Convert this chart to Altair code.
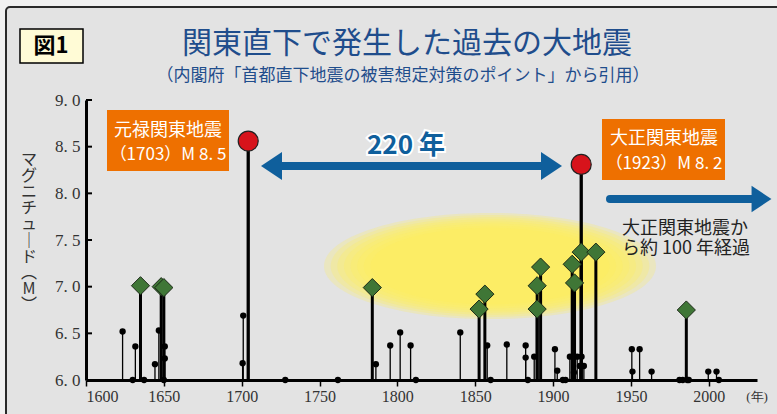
import altair as alt
import pandas as pd

# ---------------- data ----------------
dot_years = [1623.5, 1630.0, 1631.7, 1637.3, 1644.3, 1646.8, 1650.6, 1650.6, 1650.0,
             1700.6, 1701.0, 1728.0, 1761.8, 1786.2, 1795.4, 1801.8, 1808.5, 1811.9,
             1840.4, 1857.7, 1859.9, 1870.3, 1882.4, 1882.4, 1883.8, 1887.9, 1901.2,
             1902.7, 1906.3, 1908.0, 1910.8, 1913.4, 1915.5, 1917.2, 1918.3, 1919.8,
             1950.6, 1951.0, 1955.6, 1963.3, 1981.2, 1983.3, 1986.2, 1987.2, 1999.7,
             2005.0, 2006.5]
dot_mags = [6.52, 6.0, 6.36, 6.0, 6.17, 6.53, 6.36, 6.23, 6.0,
            6.18, 6.69, 6.0, 6.0, 6.17, 6.37, 6.51, 6.37, 6.0,
            6.51, 6.37, 6.0, 6.38, 6.37, 6.24, 6.0, 6.25, 6.33,
            6.10, 6.0, 6.0, 6.25, 6.08, 6.25, 6.15, 6.25, 6.15,
            6.33, 6.09, 6.33, 6.09, 6.0, 6.0, 6.0, 6.0, 6.09,
            6.09, 6.0]
dia_years = [1635.0, 1648.3, 1650.0, 1783.9, 1852.5, 1856.2, 1889.8, 1889.8, 1892.0,
             1912.3, 1913.8, 1918.1, 1927.5, 1985.6]
dia_mags = [7.01, 7.00, 6.99, 6.99, 6.76, 6.92, 6.76, 7.01, 7.21,
            7.24, 7.04, 7.37, 7.37, 6.75]
big_years = [1704.2, 1918.1]
big_mags = [8.56, 8.31]
x_ticks = [1600, 1650, 1700, 1750, 1800, 1850, 1900, 1950, 2000]
y_ticks = [6.0, 6.5, 7.0, 7.5, 8.0, 8.5, 9.0]

title_text = "関東直下で発生した過去の大地震"
subtitle_text = "（内閣府「首都直下地震の被害想定対策のポイント」から引用）"
fig_label = "図1"
ytitle_chars = ["マ", "グ", "ニ", "チ", "ュ", "｜", "ド", "︵", "M", "︶"]
genroku_lines = ["元禄関東地震", "（1703）M 8. 5"]
taisho_lines = ["大正関東地震", "（1923）M 8. 2"]
span_label = "220 年"
since_lines = ["大正関東地震か", "ら約 100 年経過"]
year_unit = "(年)"

# ---------------- styling ----------------
JP = "Noto Sans CJK JP"
SERIF = "'Liberation Serif', 'DejaVu Serif', serif"
BLUE = "#0f5f9c"
ORANGE = "#ee7000"
NAVY = "#1f4d8c"

dots = pd.DataFrame({"year": dot_years, "mag": dot_mags})
dias = pd.DataFrame({"year": dia_years, "mag": dia_mags})
bigs = pd.DataFrame({"year": big_years, "mag": big_mags})
ticks_df = pd.DataFrame({"mag": y_ticks[1:]})
one = pd.DataFrame({"a": [0]})

X = alt.X("year:Q", title=None,
          scale=alt.Scale(domain=[1600, 2031], nice=False, zero=False),
          axis=alt.Axis(values=x_ticks, format="d", labelFont=SERIF, labelFontSize=16,
                        labelColor="#333", domainColor="black", domainWidth=3,
                        tickColor="black", tickWidth=1.5, tickSize=6, labelPadding=2,
                        grid=False, zindex=1))
Y = alt.Y("mag:Q", title=None,
          scale=alt.Scale(domain=[6, 9], nice=False, zero=False),
          axis=alt.Axis(values=y_ticks,
                        labelExpr="floor(datum.value) + '. ' + round((datum.value - floor(datum.value)) * 10)",
                        labelFont=SERIF, labelFontSize=17, labelColor="#333",
                        domainColor="black", domainWidth=3, ticks=False,
                        labelPadding=6, grid=False, zindex=1))


def txt(s, x, y, **kw):
    return alt.Chart(one).mark_text(text=s, **kw).encode(x=alt.value(x), y=alt.value(y))


def box(x1, x2, y1, y2, **kw):
    return alt.Chart(one).mark_rect(**kw).encode(
        x=alt.value(x1), x2=alt.value(x2), y=alt.value(y1), y2=alt.value(y2))


layers = []
# frame / panel
layers.append(box(-80, 720, -93, 340, fill="#e3e3e3", stroke="#2a2a2a",
                  strokeWidth=2, cornerRadius=4))

# yellow glow (concentric translucent ellipses)
ellipse = "M -1 0 A 1 0.32 0 1 0 1 0 A 1 0.32 0 1 0 -1 0 Z"
glow = pd.DataFrame({"s": [(332 * k) ** 2 for k in [1.0, 0.96, 0.92, 0.88, 0.84, 0.8, 0.76, 0.72]]})
layers.append(alt.Chart(glow).mark_point(shape=ellipse, filled=True, color="#fff158",
                                         fillOpacity=0.25, strokeWidth=0).encode(
    x=alt.value(404), y=alt.value(166), size=alt.Size("s:Q", scale=None, legend=None)))

# inward y ticks
layers.append(alt.Chart(ticks_df).mark_rule(color="black", strokeWidth=2).encode(
    y=Y, x=alt.value(0), x2=alt.value(6)))

# stems
layers.append(alt.Chart(dots).mark_rule(color="black", strokeWidth=1.3).encode(
    x=X, y=Y, y2=alt.datum(6.0)))
layers.append(alt.Chart(dias).mark_rule(color="black", strokeWidth=3).encode(
    x=X, y=Y, y2=alt.datum(6.0)))
layers.append(alt.Chart(bigs).mark_rule(color="black", strokeWidth=3.3).encode(
    x=X, y=Y, y2=alt.datum(6.0)))

# heads
layers.append(alt.Chart(dots).mark_point(shape="circle", filled=True, color="black",
                                         size=40, opacity=1).encode(x=X, y=Y))
layers.append(alt.Chart(dias).mark_point(shape="diamond", filled=True, fill="#3f7636",
                                         stroke="#1c2a18", strokeWidth=1, size=330,
                                         opacity=1).encode(x=X, y=Y))
layers.append(alt.Chart(bigs).mark_point(shape="circle", filled=True, fill="#d7131b",
                                         stroke="#222", strokeWidth=1.2, size=400,
                                         opacity=1).encode(x=X, y=Y))

# orange boxes
layers.append(box(21, 143, 10, 71, fill=ORANGE))
layers.append(txt(genroku_lines[0], 82, 31, font=JP, fontSize=18, color="white",
                  align="center", baseline="middle"))
layers.append(txt(genroku_lines[1], 82, 55, font=JP, fontSize=17, color="white",
                  align="center", baseline="middle"))
layers.append(box(516, 639, 19, 80, fill=ORANGE))
layers.append(txt(taisho_lines[0], 578, 39, font=JP, fontSize=18, color="white",
                  align="center", baseline="middle"))
layers.append(txt(taisho_lines[1], 578, 64, font=JP, fontSize=17, color="white",
                  align="center", baseline="middle"))

# double arrow 220 years
left_head = "M 0.75 -1 L -0.75 0 L 0.75 1 Z"
right_head = "M -0.75 -1 L 0.75 0 L -0.75 1 Z"
layers.append(alt.Chart(one).mark_rule(color=BLUE, strokeWidth=8).encode(
    x=alt.value(185), x2=alt.value(466), y=alt.value(66)))
layers.append(alt.Chart(one).mark_point(shape=left_head, filled=True, color=BLUE,
                                        size=784, opacity=1).encode(
    x=alt.value(185.5), y=alt.value(66)))
layers.append(alt.Chart(one).mark_point(shape=right_head, filled=True, color=BLUE,
                                        size=784, opacity=1).encode(
    x=alt.value(465.5), y=alt.value(66)))
layers.append(txt(span_label, 320, 46, font=JP, fontSize=26, fontWeight="bold",
                  color="white", stroke="white", strokeWidth=4, align="center",
                  baseline="middle"))
layers.append(txt(span_label, 320, 46, font=JP, fontSize=26, fontWeight="bold",
                  color=BLUE, align="center", baseline="middle"))

# right arrow
layers.append(alt.Chart(one).mark_rule(color=BLUE, strokeWidth=8, strokeCap="round").encode(
    x=alt.value(524), x2=alt.value(676), y=alt.value(99)))
layers.append(alt.Chart(one).mark_point(shape=right_head, filled=True, color=BLUE,
                                        size=700, opacity=1).encode(
    x=alt.value(675.5), y=alt.value(99)))
layers.append(txt(since_lines[0], 536, 129, font=JP, fontSize=18, color="#222",
                  align="left", baseline="middle"))
layers.append(txt(since_lines[1], 536, 149, font=JP, fontSize=18, color="#222",
                  align="left", baseline="middle"))

# year unit
layers.append(txt(year_unit, 671, 297, font=SERIF, fontSize=13, color="#333",
                  align="center", baseline="middle"))

# y-axis title (vertical writing)
layers.append(txt("\n".join(ytitle_chars), -57, 52, font=JP, fontSize=16, lineHeight=16.1,
                  lineBreak="\n", color="#333", align="center", baseline="top"))

# titles
layers.append(box(-66, -3, -71, -37, fill="#fffbd6", stroke="black", strokeWidth=1.5))
layers.append(txt(fig_label, -35, -54, font=JP, fontSize=22, fontWeight="bold",
                  color="black", align="center", baseline="middle"))
layers.append(txt(title_text, 321, -56, font=JP, fontSize=30, color=NAVY,
                  align="center", baseline="middle"))
layers.append(txt(subtitle_text, 317, -24, font=JP, fontSize=17, color=NAVY,
                  align="center", baseline="middle"))

chart = alt.layer(*layers).properties(
    width=671, height=280,
    padding={"left": 86, "top": 100, "right": 20, "bottom": 34},
    autosize=alt.AutoSizeParams(type="none"),
    background="#f1f1f1",
).configure_view(stroke="transparent")

chart.save("out.html", embed_options={"renderer": "svg", "actions": False})
